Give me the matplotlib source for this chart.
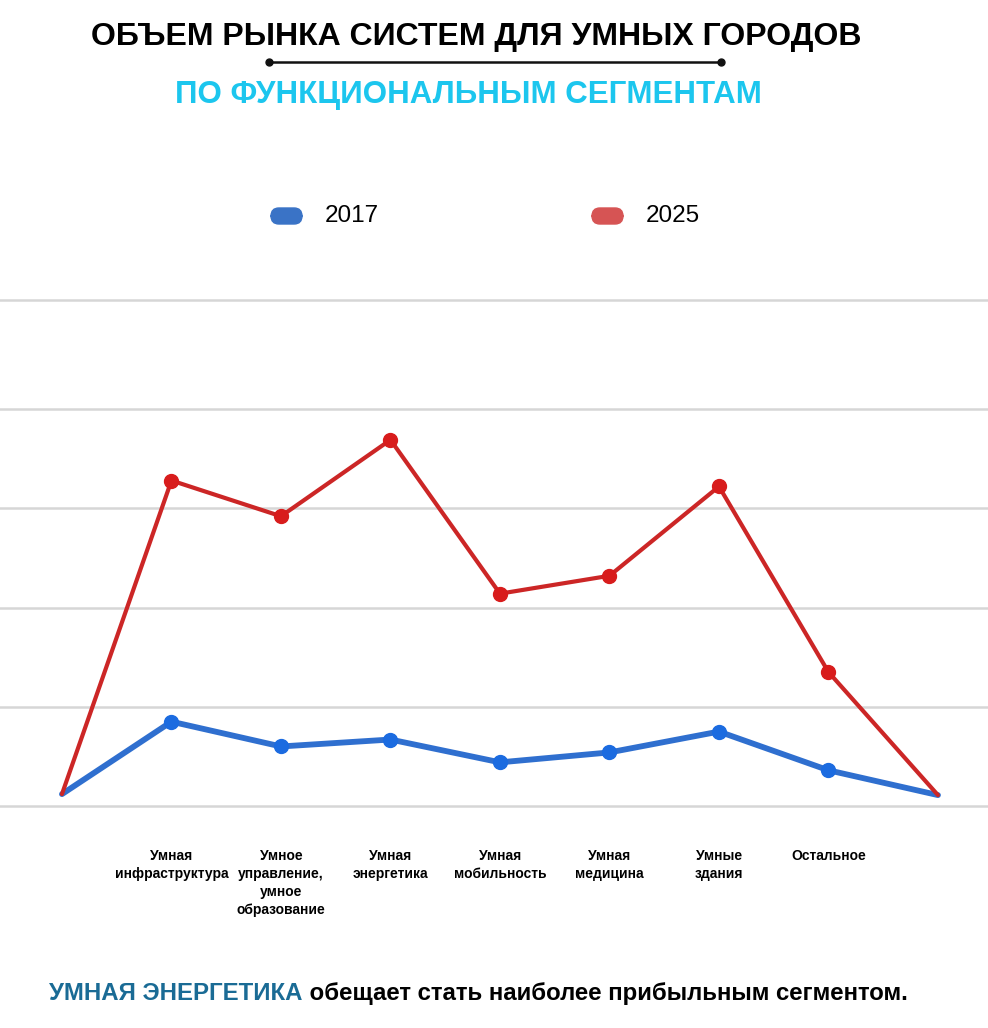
import matplotlib
matplotlib.use("Agg")
import matplotlib.pyplot as plt
from matplotlib.patches import FancyBboxPatch
from matplotlib.lines import Line2D

# segments (the first and last positions are the empty ends of the lines)
segments = ["", "Умная\nинфраструктура", "Умное\nуправление,\nумное\nобразование",
            "Умная\nэнергетика", "Умная\nмобильность", "Умная\nмедицина",
            "Умные\nздания", "Остальное", ""]
years = ["2017", "2025"]
values_2017 = [0.12, 0.85, 0.60, 0.67, 0.44, 0.54, 0.75, 0.36, 0.11]
values_2025 = [0.12, 3.28, 2.92, 3.69, 2.14, 2.32, 3.22, 1.35, 0.11]
grid_levels = [0, 1, 2, 3, 4, 5.1]

FONT = "Liberation Sans"
plt.rcParams['font.family'] = [FONT, 'DejaVu Sans']

BLUE = "#2f6fcf"
RED = "#cc2626"

fig = plt.figure(figsize=(9.88, 10.28), dpi=100)
W, H = 988, 1028

def fx(px):
    return px / W

def fy(py):
    return 1 - py / H

ax = fig.add_axes([0, fy(820), 1, (820 - 290) / H])
x = list(range(len(segments)))
ax.plot(x, values_2017, color=BLUE, lw=4.2, solid_capstyle='round', zorder=3)
ax.plot(x[1:-1], values_2017[1:-1], 'o', color="#1b6be0", ms=10, zorder=4)
ax.plot(x, values_2025, color=RED, lw=3.0, solid_capstyle='round', zorder=3)
ax.plot(x[1:-1], values_2025[1:-1], 'o', color="#d81c1c", ms=10, zorder=4)

ax.set_xlim(-0.566, 8.457)
ax.set_ylim(-0.141, 5.2)
ax.set_yticks(grid_levels)
ax.set_yticklabels([])
ax.grid(axis='y', color="#d6d6d6", lw=1.8)
ax.set_axisbelow(True)
ax.set_xticks(x[1:-1])
ax.set_xticklabels(segments[1:-1], fontsize=10, fontweight='bold',
                   linespacing=1.35)
ax.tick_params(axis='both', length=0)
ax.tick_params(axis='x', pad=21)
for s in ax.spines.values():
    s.set_visible(False)

# titles
fig.text(fx(476), fy(34), "ОБЪЕМ РЫНКА СИСТЕМ ДЛЯ УМНЫХ ГОРОДОВ",
         ha='center', va='center_baseline', fontsize=23, fontweight='bold', color='black')
fig.add_artist(Line2D([fx(269), fx(721)], [fy(62), fy(62)], color='#111111', lw=1.8,
                      marker='o', ms=5))
fig.text(fx(468), fy(92), "ПО ФУНКЦИОНАЛЬНЫМ СЕГМЕНТАМ",
         ha='center', va='center_baseline', fontsize=22.5, fontweight='bold', color='#1cc6ee')

# legend
for (px, lbl, col) in [(271, years[0], "#3a73c6"), (592, years[1], "#d65454")]:
    fig.add_artist(FancyBboxPatch((fx(px), fy(224)), fx(31), 16 / H,
                                  boxstyle="round,pad=0,rounding_size=0.008",
                                  fc=col, ec=col, transform=fig.transFigure))
    fig.text(fx(px + 54), fy(216), lbl, ha='left', va='center',
             fontsize=17.5, color='black')

# footer: coloured start, then the rest of the sentence on the same baseline
t1 = fig.text(fx(49), fy(1000), "УМНАЯ ЭНЕРГЕТИКА", ha='left', va='baseline',
              fontsize=17.3, fontweight='bold', color='#1a6b95')
fig.canvas.draw()
bb = t1.get_window_extent(renderer=fig.canvas.get_renderer())
fig.text(bb.x1 / W, fy(1000), " обещает стать наиболее прибыльным сегментом.",
         ha='left', va='baseline', fontsize=17.3, fontweight='bold', color='black')

fig.savefig("out.png", dpi=100)
